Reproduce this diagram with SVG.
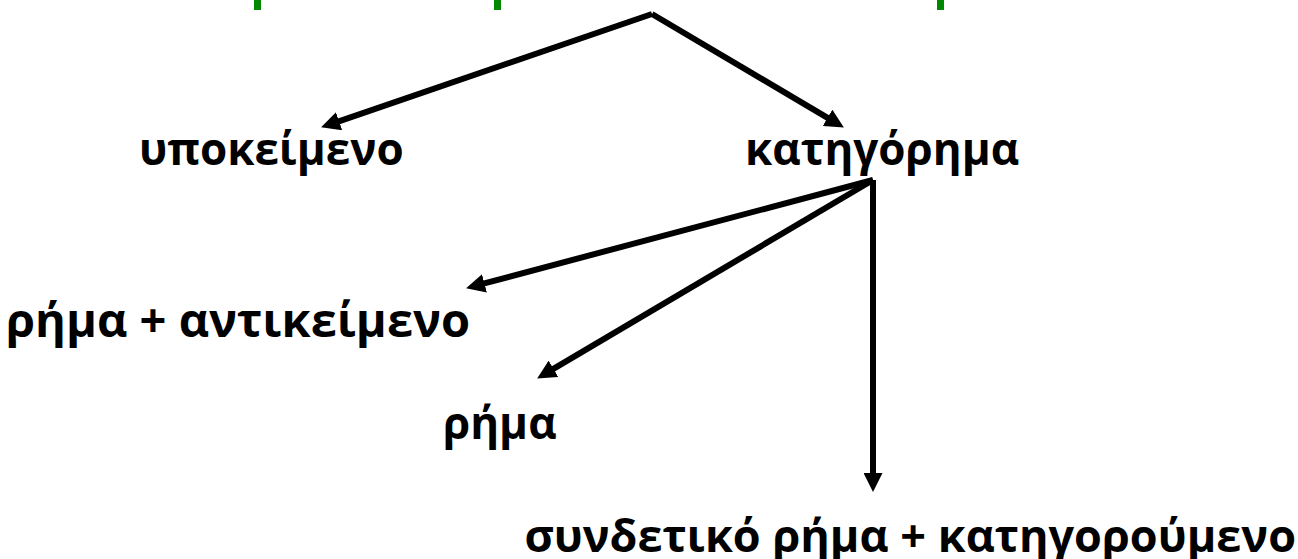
<svg xmlns="http://www.w3.org/2000/svg" width="1298" height="559" viewBox="0 0 1298 559">
<style>
.t{font-family:"Open Sans","Noto Sans",sans-serif;font-weight:bold;font-size:44px;fill:#000}
.c line{stroke:#000;stroke-width:6;marker-end:url(#ah)}
.g{fill:#008800}
</style>
<defs>
<marker id="ah" markerUnits="userSpaceOnUse" markerWidth="19" markerHeight="19" refX="8" refY="9.5" orient="auto">
<path d="M0,0 L19,9.5 L0,19 z" fill="#000"/>
</marker>
</defs>
<g id="title-remnant">
<rect class="g" x="254" y="0" width="7" height="10"/>
<rect class="g" x="494" y="0" width="7" height="10"/>
<rect class="g" x="937" y="0" width="7" height="10"/>
</g>
<g id="connectors" class="c">
<line x1="652" y1="14" x2="331.5" y2="123.8"/>
<line x1="652" y1="14" x2="834.4" y2="121.9"/>
<line x1="873" y1="180" x2="476.7" y2="285.4"/>
<line x1="873" y1="180" x2="546.6" y2="372.9"/>
<line x1="873" y1="180" x2="873" y2="481"/>
</g>
<g id="n-ypokeimeno"><text class="t" x="139" y="165">υποκείμενο</text></g>
<g id="n-katigorima"><text class="t" x="745" y="165">κατηγόρημα</text></g>
<g id="n-rima-antikeimeno"><text class="t" x="6" y="337" style="font-size:47px">ρήμα + αντικείμενο</text></g>
<g id="n-rima"><text class="t" x="443" y="439">ρήμα</text></g>
<g id="n-syndetiko"><text class="t" x="1296" y="552" text-anchor="end" style="font-size:45px">συνδετικό ρήμα + κατηγορούμενο</text></g>
</svg>
